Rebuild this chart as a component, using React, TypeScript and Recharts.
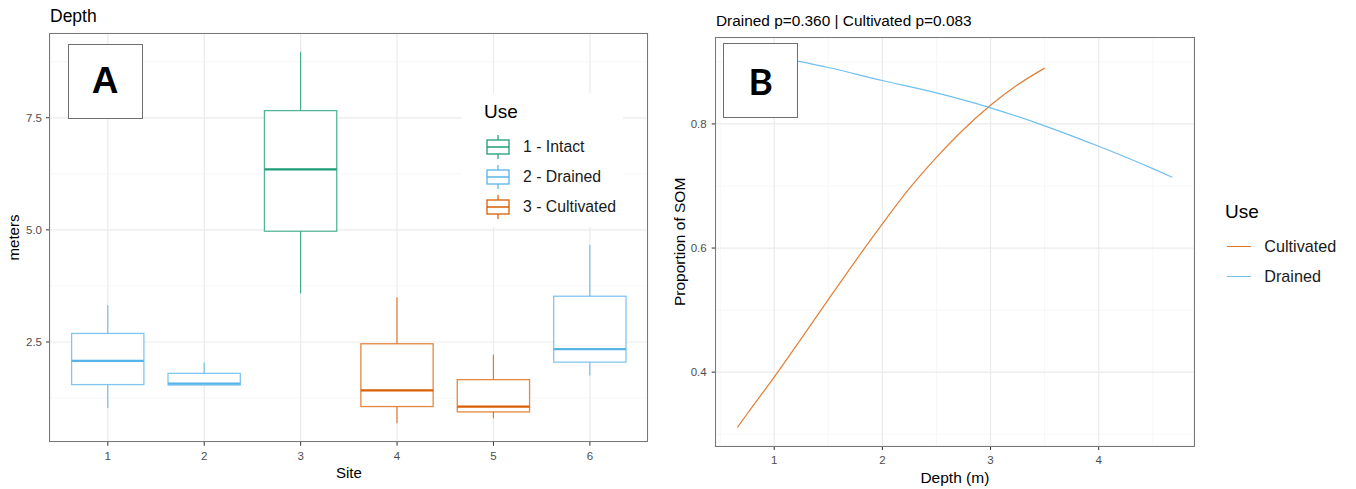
import React from "react";
import {
  ComposedChart,
  Bar,
  LineChart,
  Line,
  XAxis,
  YAxis,
  CartesianGrid,
} from "recharts";

const FONT = '"Liberation Sans", Arial, Helvetica, sans-serif';
const TICK_STYLE = { fill: "#4D4D4D", fontSize: 11.5, fontFamily: FONT };

/* ---------- Panel A: depth boxplots by site ---------- */

const sites = ["1", "2", "3", "4", "5", "6"];
const siteUse = ["Drained", "Drained", "Intact", "Cultivated", "Cultivated", "Drained"];
const depthMin = [1.03, 1.54, 3.58, 0.69, 0.8, 1.75];
const depthQ1 = [1.55, 1.54, 4.97, 1.06, 0.94, 2.05];
const depthMedian = [2.08, 1.57, 6.35, 1.42, 1.06, 2.34];
const depthQ3 = [2.69, 1.8, 7.66, 2.46, 1.66, 3.52];
const depthMax = [3.32, 2.04, 8.97, 3.5, 2.22, 4.67];
const depthTicks = [2.5, 5, 7.5];
const depthMinorTicks = [1.25, 3.75, 6.25, 8.75];

const useLevels = ["Intact", "Drained", "Cultivated"];
const useLabels = ["1 - Intact", "2 - Drained", "3 - Cultivated"];
const useColors: Record<string, string> = {
  Intact: "#1B9E77",
  Drained: "#56B4E9",
  Cultivated: "#D95F02",
};

/* ---------- Panel B: fitted SOM proportion vs depth ---------- */

const cultivatedDepth = [0.66, 0.75, 1.0, 1.25, 1.5, 1.75, 2.0, 2.25, 2.5, 2.75, 3.0, 3.25, 3.5];
const cultivatedSom = [0.311, 0.333, 0.392, 0.454, 0.517, 0.579, 0.639, 0.696, 0.746, 0.791, 0.83, 0.863, 0.89];
const drainedDepth = [1.0, 1.5, 2.0, 2.5, 3.0, 3.5, 4.0, 4.5, 4.68];
const drainedSom = [0.909, 0.891, 0.87, 0.85, 0.826, 0.797, 0.764, 0.728, 0.714];
const somTicks = [0.4, 0.6, 0.8];
const somMinorTicks = [0.3, 0.5, 0.7, 0.9];
const depthAxisTicks = [1, 2, 3, 4];
const depthAxisMinor = [0.5, 1.5, 2.5, 3.5, 4.5];
const lineLegend = ["Cultivated", "Drained"];

const boxData = sites.map((site, i) => ({
  site,
  use: siteUse[i],
  min: depthMin[i],
  q1: depthQ1[i],
  median: depthMedian[i],
  q3: depthQ3[i],
  max: depthMax[i],
  range: [depthMin[i], depthMax[i]],
}));

const cultivatedData = cultivatedDepth.map((depth, i) => ({ depth, som: cultivatedSom[i] }));
const drainedData = drainedDepth.map((depth, i) => ({ depth, som: drainedSom[i] }));

// Bar spans min..max; box, median and whiskers are placed inside that span
const BoxShape = (props: any) => {
  const { x, y, width, height, payload } = props;
  if (!payload) return null;
  const color = useColors[payload.use];
  const top = Math.min(y, y + height);
  const span = Math.abs(height);
  const { min, max, q1, median, q3 } = payload;
  const py = (v: number) => top + ((max - v) / (max - min)) * span;
  const cx = x + width / 2;
  return (
    <g>
      <line x1={cx} x2={cx} y1={py(max)} y2={py(q3)} stroke={color} strokeOpacity={0.8} strokeWidth={1.2} />
      <line x1={cx} x2={cx} y1={py(q1)} y2={py(min)} stroke={color} strokeOpacity={0.8} strokeWidth={1.2} />
      <rect
        x={x}
        y={py(q3)}
        width={width}
        height={py(q1) - py(q3)}
        fill="#FFFFFF"
        stroke={color}
        strokeOpacity={0.75}
        strokeWidth={1.3}
      />
      <line x1={x} x2={x + width} y1={py(median)} y2={py(median)} stroke={color} strokeWidth={2.2} />
    </g>
  );
};

const BoxKey = ({ color }: { color: string }) => (
  <svg width={24} height={26} style={{ display: "block" }}>
    <line x1={12} x2={12} y1={1} y2={6} stroke={color} strokeWidth={1.2} />
    <line x1={12} x2={12} y1={20} y2={25} stroke={color} strokeWidth={1.2} />
    <rect x={1} y={6} width={22} height={14} fill="#fff" stroke={color} strokeWidth={1.3} />
    <line x1={1} x2={23} y1={13} y2={13} stroke={color} strokeWidth={1.5} />
  </svg>
);

const abs = (left: number, top: number, extra: React.CSSProperties = {}): React.CSSProperties => ({
  position: "absolute",
  left,
  top,
  ...extra,
});

const PanelBorder = ({ left, top, width, height }: { left: number; top: number; width: number; height: number }) => (
  <div
    style={abs(left - 0.7, top - 0.7, {
      width: width + 1.4,
      height: height + 1.4,
      border: "1.4px solid #777777",
      boxSizing: "border-box",
      pointerEvents: "none",
    })}
  />
);

const TagBox = ({ left, top, text, font }: { left: number; top: number; text: string; font: string }) => (
  <div
    style={abs(left, top, {
      width: 75,
      height: 75,
      border: "1.3px solid #6E6E6E",
      boxSizing: "border-box",
      background: "#FFFFFF",
      display: "flex",
      alignItems: "center",
      justifyContent: "center",
      fontFamily: font,
      fontWeight: 700,
      fontSize: 37,
      color: "#000",
    })}
  >
    {text}
  </div>
);

export default function App() {
  return (
    <div
      style={{
        position: "absolute",
        left: 0,
        top: 0,
        width: 1356,
        height: 489,
        background: "#FFFFFF",
        overflow: "hidden",
        fontFamily: FONT,
      }}
    >
      {/* Panel A */}
      <div style={abs(0, 0)}>
        <ComposedChart
          width={660}
          height={489}
          data={boxData}
          margin={{ top: 33.3, right: 12.3, bottom: 0, left: 0 }}
        >
          <CartesianGrid
            stroke="#F3F3F3"
            strokeWidth={0.7}
            vertical={false}
            horizontalValues={depthMinorTicks}
          />
          <CartesianGrid stroke="#EBEBEB" strokeWidth={1.2} />
          <XAxis
            dataKey="site"
            type="category"
            padding={{ left: 9.6, right: 9.6 }}
            height={47.3}
            axisLine={false}
            tick={TICK_STYLE}
            tickLine={{ stroke: "#333" }}
            tickSize={4}
            tickMargin={6}
            label={{ value: "Site", position: "insideBottom", offset: 11, fill: "#000", fontSize: 15, fontFamily: FONT }}
          />
          <YAxis
            type="number"
            domain={[0.276, 9.384]}
            allowDataOverflow
            ticks={depthTicks}
            tickFormatter={(v: number) => v.toFixed(1)}
            width={50}
            axisLine={false}
            tick={TICK_STYLE}
            tickLine={{ stroke: "#333" }}
            tickSize={4}
            tickMargin={4}
            label={{
              value: "meters",
              angle: -90,
              position: "insideLeft",
              offset: 14,
              fill: "#000",
              fontSize: 15,
              fontFamily: FONT,
              style: { textAnchor: "middle" },
            }}
          />
          <Bar dataKey="range" barSize={72.3} shape={<BoxShape />} isAnimationActive={false} />
        </ComposedChart>
      </div>
      <PanelBorder left={50} top={33.3} width={597.7} height={408.4} />
      <div style={abs(50, 4, { fontSize: 17.5, lineHeight: "24px", color: "#000" })}>Depth</div>
      <TagBox left={67.7} top={43.7} text="A" font={FONT} />

      {/* Panel A legend */}
      <div style={abs(462, 93, { width: 161, height: 134, background: "#FFFFFF" })}>
        <div style={abs(22, 7, { fontSize: 19, lineHeight: "24px", color: "#000" })}>Use</div>
        {useLevels.map((level, i) => (
          <div key={level} style={abs(24, 40.7 + i * 30.3, { display: "flex", alignItems: "center", height: 26 })}>
            <BoxKey color={useColors[level]} />
            <span style={{ marginLeft: 13, fontSize: 15.8, color: "#1A1A1A", whiteSpace: "nowrap" }}>
              {useLabels[i]}
            </span>
          </div>
        ))}
      </div>

      {/* Panel B */}
      <div style={abs(660, 0)}>
        <LineChart width={696} height={489} margin={{ top: 37.7, right: 162, bottom: 0, left: 0 }}>
          <CartesianGrid
            stroke="#F3F3F3"
            strokeWidth={0.7}
            horizontalValues={somMinorTicks}
            verticalValues={depthAxisMinor}
          />
          <CartesianGrid stroke="#EBEBEB" strokeWidth={1.2} />
          <XAxis
            dataKey="depth"
            type="number"
            domain={[0.459, 4.881]}
            allowDataOverflow
            ticks={depthAxisTicks}
            height={43}
            axisLine={false}
            tick={TICK_STYLE}
            tickLine={{ stroke: "#333" }}
            tickSize={4}
            tickMargin={6}
            label={{ value: "Depth (m)", position: "insideBottom", offset: 6, fill: "#000", fontSize: 15.5, fontFamily: FONT }}
          />
          <YAxis
            type="number"
            domain={[0.281, 0.939]}
            allowDataOverflow
            ticks={somTicks}
            tickFormatter={(v: number) => v.toFixed(1)}
            width={55.7}
            axisLine={false}
            tick={TICK_STYLE}
            tickLine={{ stroke: "#333" }}
            tickSize={4}
            tickMargin={5}
            label={{
              value: "Proportion of SOM",
              angle: -90,
              position: "insideLeft",
              offset: 19.5,
              fill: "#000",
              fontSize: 15.5,
              fontFamily: FONT,
              style: { textAnchor: "middle" },
            }}
          />
          <Line
            data={cultivatedData}
            dataKey="som"
            type="monotone"
            stroke="#D95F02"
            strokeOpacity={0.8}
            strokeWidth={1.2}
            dot={false}
            isAnimationActive={false}
          />
          <Line
            data={drainedData}
            dataKey="som"
            type="monotone"
            stroke="#56B4E9"
            strokeOpacity={0.85}
            strokeWidth={1.2}
            dot={false}
            isAnimationActive={false}
          />
        </LineChart>
      </div>
      <PanelBorder left={715.7} top={37.7} width={478.3} height={408.3} />
      <div style={abs(716, 11, { fontSize: 15.4, lineHeight: "20px", color: "#000", whiteSpace: "nowrap" })}>
        Drained p=0.360 | Cultivated p=0.083
      </div>
      <TagBox left={723.3} top={43.3} text="B" font="Lato, 'Open Sans', sans-serif" />

      {/* Panel B legend */}
      <div style={abs(1225, 200, { fontSize: 19, lineHeight: "24px", color: "#000" })}>Use</div>
      {lineLegend.map((name, i) => (
        <div key={name} style={abs(1226.7, 234.7 + i * 30, { display: "flex", alignItems: "center", height: 24 })}>
          <div style={{ width: 24, height: 1.6, background: useColors[name], opacity: 0.85 }} />
          <span style={{ marginLeft: 13.6, fontSize: 16.2, color: "#1A1A1A", whiteSpace: "nowrap" }}>{name}</span>
        </div>
      ))}
    </div>
  );
}
